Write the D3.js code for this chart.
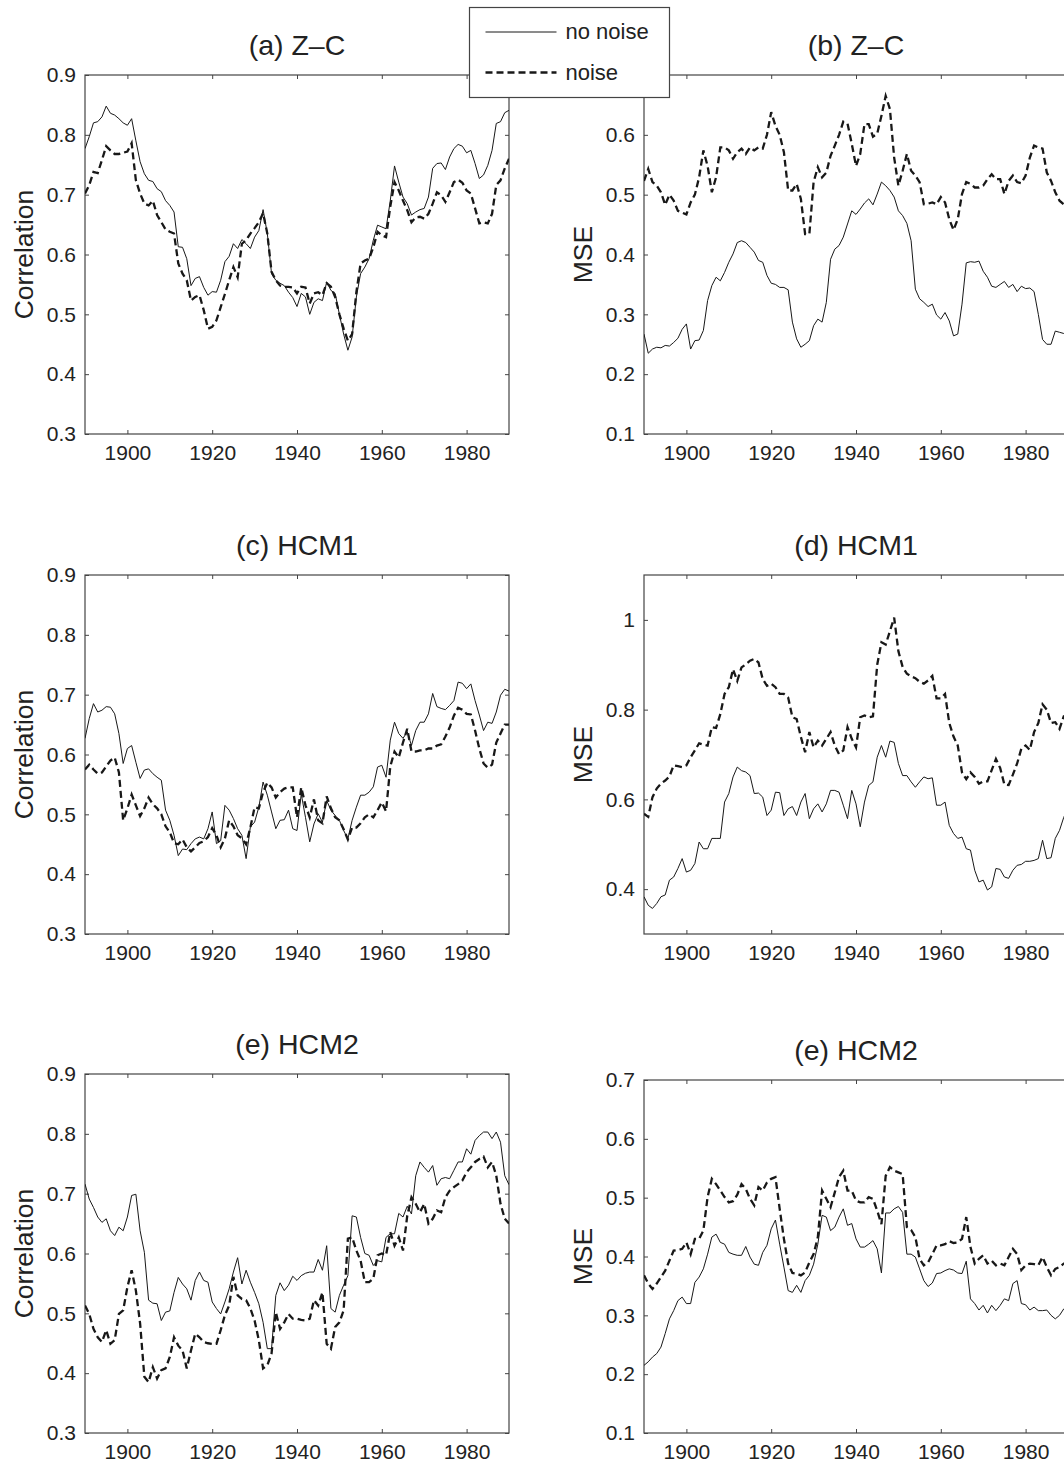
<!DOCTYPE html>
<html>
<head>
<meta charset="utf-8">
<script src="https://cdn.jsdelivr.net/npm/d3@7"></script>
<style>
	body { margin: 0; background: #fff; }
	svg { display: block; font-family: "Liberation Sans", Arial, Helvetica, sans-serif; }
</style>
</head>
<body>
<svg id="chart" width="1064" height="1463"></svg>
<script>
// yearly values, 1890 .. 1990
const years = d3.range(1890, 1991);
const xTicks = [1900, 1920, 1940, 1960, 1980];

// (a) Z-C correlation
const zcCorrClean = [
	0.777, 0.797, 0.82, 0.822, 0.83, 0.848, 0.836, 0.833, 0.827, 0.82,
	0.816, 0.827, 0.79, 0.755, 0.735, 0.724, 0.722, 0.71, 0.705, 0.69,
	0.682, 0.671, 0.613, 0.612, 0.593, 0.548, 0.56, 0.563, 0.545, 0.532,
	0.538, 0.537, 0.557, 0.588, 0.597, 0.618, 0.61, 0.625, 0.618, 0.61,
	0.629, 0.64, 0.675, 0.635, 0.568, 0.557, 0.552, 0.548, 0.537, 0.528,
	0.513, 0.535, 0.529, 0.5, 0.52, 0.526, 0.523, 0.554, 0.54, 0.535,
	0.5, 0.467, 0.44, 0.462, 0.529, 0.568, 0.579, 0.593, 0.624, 0.649,
	0.646, 0.643, 0.69, 0.748, 0.721, 0.696, 0.685, 0.666, 0.671, 0.675,
	0.677, 0.696, 0.744, 0.752, 0.753, 0.742, 0.763, 0.777, 0.784, 0.781,
	0.77, 0.774, 0.752, 0.727, 0.733, 0.749, 0.774, 0.819, 0.822, 0.837,
	0.841
];
const zcCorrNoise = [
	0.702, 0.716, 0.738, 0.736, 0.758, 0.781, 0.774, 0.768, 0.768, 0.77,
	0.772, 0.786, 0.724, 0.702, 0.685, 0.682, 0.69, 0.666, 0.654, 0.642,
	0.638, 0.635, 0.585, 0.568, 0.557, 0.523, 0.529, 0.532, 0.507, 0.476,
	0.479, 0.49, 0.512, 0.534, 0.557, 0.579, 0.562, 0.618, 0.624, 0.635,
	0.644, 0.654, 0.669, 0.635, 0.571, 0.557, 0.548, 0.546, 0.546, 0.545,
	0.535, 0.546, 0.545, 0.518, 0.535, 0.537, 0.532, 0.552, 0.546, 0.529,
	0.5, 0.476, 0.456, 0.467, 0.537, 0.585, 0.59, 0.593, 0.612, 0.638,
	0.632, 0.629, 0.68, 0.721, 0.707, 0.69, 0.674, 0.654, 0.662, 0.663,
	0.66, 0.668, 0.685, 0.704, 0.699, 0.688, 0.704, 0.721, 0.725, 0.72,
	0.707, 0.702, 0.677, 0.652, 0.654, 0.652, 0.668, 0.716, 0.724, 0.744,
	0.76
];

// (b) Z-C MSE
const zcMseClean = [
	0.267, 0.235, 0.242, 0.245, 0.244, 0.248, 0.247, 0.253, 0.26, 0.275,
	0.284, 0.242, 0.256, 0.257, 0.273, 0.323, 0.348, 0.362, 0.356, 0.37,
	0.387, 0.401, 0.42, 0.423, 0.42, 0.412, 0.404, 0.39, 0.387, 0.365,
	0.352, 0.35, 0.345, 0.345, 0.341, 0.287, 0.259, 0.245, 0.25, 0.256,
	0.281, 0.292, 0.287, 0.32, 0.392, 0.409, 0.415, 0.429, 0.451, 0.473,
	0.467, 0.476, 0.486, 0.493, 0.483, 0.501, 0.521, 0.515, 0.507, 0.496,
	0.473, 0.465, 0.452, 0.423, 0.342, 0.326, 0.32, 0.313, 0.317, 0.299,
	0.292, 0.303, 0.289, 0.264, 0.267, 0.317, 0.386, 0.388, 0.387, 0.389,
	0.372, 0.362, 0.347, 0.345, 0.35, 0.355, 0.345, 0.35, 0.338, 0.347,
	0.343, 0.344, 0.338, 0.3, 0.258, 0.25, 0.25, 0.272, 0.27, 0.268,
	0.268
];
const zcMseNoise = [
	0.523, 0.543, 0.521, 0.515, 0.504, 0.483, 0.5, 0.49, 0.473, 0.47,
	0.467, 0.487, 0.5, 0.529, 0.574, 0.548, 0.504, 0.529, 0.579, 0.579,
	0.574, 0.56, 0.571, 0.577, 0.568, 0.579, 0.574, 0.579, 0.577, 0.6,
	0.638, 0.615, 0.6, 0.571, 0.507, 0.507, 0.518, 0.493, 0.434, 0.434,
	0.521, 0.546, 0.529, 0.537, 0.565, 0.582, 0.6, 0.622, 0.619, 0.585,
	0.548, 0.568, 0.618, 0.618, 0.597, 0.602, 0.632, 0.665, 0.643, 0.562,
	0.515, 0.54, 0.568, 0.54, 0.532, 0.521, 0.484, 0.485, 0.487, 0.484,
	0.496, 0.487, 0.459, 0.441, 0.459, 0.501, 0.521, 0.518, 0.512, 0.512,
	0.515, 0.526, 0.534, 0.526, 0.526, 0.501, 0.523, 0.532, 0.521, 0.519,
	0.532, 0.562, 0.582, 0.579, 0.577, 0.537, 0.523, 0.504, 0.49, 0.484,
	0.48
];

// (c) HCM1 correlation
const hcm1CorrClean = [
	0.627, 0.66, 0.685, 0.671, 0.674, 0.68, 0.679, 0.668, 0.635, 0.585,
	0.61, 0.615, 0.587, 0.56, 0.574, 0.576, 0.568, 0.562, 0.557, 0.507,
	0.49, 0.465, 0.431, 0.442, 0.441, 0.451, 0.459, 0.462, 0.459, 0.476,
	0.504, 0.451, 0.456, 0.515, 0.507, 0.493, 0.476, 0.465, 0.426, 0.479,
	0.487, 0.512, 0.554, 0.532, 0.504, 0.476, 0.49, 0.491, 0.507, 0.476,
	0.473, 0.534, 0.495, 0.454, 0.484, 0.501, 0.487, 0.523, 0.507, 0.498,
	0.49, 0.473, 0.459, 0.49, 0.512, 0.532, 0.532, 0.537, 0.546, 0.579,
	0.582, 0.562, 0.624, 0.654, 0.635, 0.627, 0.638, 0.615, 0.64, 0.654,
	0.654, 0.668, 0.702, 0.68, 0.677, 0.675, 0.682, 0.69, 0.721, 0.719,
	0.71, 0.718, 0.69, 0.666, 0.64, 0.654, 0.652, 0.671, 0.699, 0.709,
	0.706
];
const hcm1CorrNoise = [
	0.575, 0.583, 0.575, 0.568, 0.57, 0.58, 0.59, 0.595, 0.57, 0.49,
	0.51, 0.533, 0.515, 0.497, 0.51, 0.528, 0.517, 0.51, 0.5, 0.48,
	0.47, 0.452, 0.45, 0.458, 0.445, 0.438, 0.445, 0.452, 0.455, 0.462,
	0.477, 0.465, 0.445, 0.46, 0.49, 0.48, 0.465, 0.46, 0.45, 0.478,
	0.512, 0.51, 0.537, 0.553, 0.545, 0.528, 0.537, 0.543, 0.545, 0.545,
	0.495, 0.545, 0.515, 0.495, 0.525, 0.49, 0.485, 0.53, 0.51, 0.495,
	0.49, 0.475, 0.458, 0.478, 0.478, 0.485, 0.495, 0.5, 0.495, 0.507,
	0.52, 0.505, 0.58, 0.605, 0.595, 0.62, 0.643, 0.605, 0.605, 0.607,
	0.607, 0.61, 0.61, 0.615, 0.617, 0.63, 0.645, 0.665, 0.678, 0.675,
	0.668, 0.667, 0.64, 0.61, 0.585, 0.578, 0.583, 0.62, 0.635, 0.65,
	0.65
];

// (d) HCM1 MSE
const hcm1MseClean = [
	0.383, 0.364, 0.357, 0.368, 0.383, 0.387, 0.42, 0.427, 0.446, 0.468,
	0.438, 0.442, 0.457, 0.505, 0.49, 0.49, 0.513, 0.513, 0.513, 0.594,
	0.613, 0.65, 0.672, 0.664, 0.661, 0.653, 0.613, 0.614, 0.605, 0.564,
	0.576, 0.616, 0.615, 0.564, 0.579, 0.584, 0.564, 0.594, 0.613, 0.557,
	0.579, 0.59, 0.572, 0.59, 0.62, 0.62, 0.616, 0.587, 0.557, 0.62,
	0.59, 0.539, 0.594, 0.631, 0.639, 0.694, 0.72, 0.694, 0.73, 0.727,
	0.68, 0.653, 0.653, 0.639, 0.627, 0.639, 0.65, 0.646, 0.648, 0.587,
	0.587, 0.594, 0.542, 0.524, 0.513, 0.516, 0.49, 0.487, 0.442, 0.416,
	0.42, 0.398, 0.405, 0.446, 0.444, 0.427, 0.424, 0.442, 0.453, 0.455,
	0.462, 0.462, 0.464, 0.468, 0.509, 0.468, 0.47, 0.513, 0.531, 0.56,
	0.58
];
const hcm1MseNoise = [
	0.568, 0.561, 0.605, 0.624, 0.635, 0.642, 0.651, 0.676, 0.674, 0.672,
	0.676, 0.694, 0.709, 0.725, 0.722, 0.72, 0.761, 0.759, 0.79, 0.835,
	0.85, 0.89, 0.864, 0.894, 0.901, 0.909, 0.913, 0.905, 0.868, 0.853,
	0.858, 0.85, 0.835, 0.835, 0.827, 0.783, 0.779, 0.739, 0.705, 0.75,
	0.716, 0.731, 0.72, 0.735, 0.75, 0.72, 0.701, 0.709, 0.761, 0.735,
	0.716, 0.783, 0.787, 0.783, 0.785, 0.9, 0.95, 0.945, 0.975, 1.005,
	0.93, 0.895, 0.88, 0.874, 0.87, 0.862, 0.858, 0.865, 0.875, 0.825,
	0.825, 0.835, 0.77, 0.74, 0.72, 0.66, 0.645, 0.66, 0.65, 0.635,
	0.64, 0.64, 0.665, 0.69, 0.67, 0.633, 0.632, 0.655, 0.68, 0.713,
	0.72, 0.71, 0.75, 0.77, 0.812, 0.8, 0.77, 0.772, 0.757, 0.785,
	0.79
];

// (e) HCM2 correlation
const hcm2CorrClean = [
	0.716, 0.691, 0.677, 0.661, 0.652, 0.658, 0.638, 0.63, 0.644, 0.638,
	0.661, 0.697, 0.699, 0.638, 0.602, 0.522, 0.517, 0.516, 0.488, 0.502,
	0.504, 0.535, 0.56, 0.549, 0.541, 0.522, 0.555, 0.569, 0.555, 0.552,
	0.519, 0.508, 0.499, 0.519, 0.541, 0.569, 0.593, 0.549, 0.572, 0.552,
	0.535, 0.516, 0.485, 0.441, 0.441, 0.53, 0.551, 0.538, 0.547, 0.562,
	0.555, 0.563, 0.567, 0.569, 0.569, 0.59, 0.572, 0.613, 0.508, 0.502,
	0.53, 0.547, 0.563, 0.663, 0.661, 0.627, 0.6, 0.597, 0.58, 0.588,
	0.586, 0.627, 0.633, 0.633, 0.667, 0.661, 0.679, 0.666, 0.73, 0.753,
	0.744, 0.736, 0.747, 0.714, 0.725, 0.727, 0.725, 0.739, 0.753, 0.753,
	0.775, 0.766, 0.789, 0.797, 0.803, 0.803, 0.792, 0.803, 0.786, 0.73,
	0.715
];
const hcm2CorrNoise = [
	0.513, 0.499, 0.474, 0.46, 0.452, 0.472, 0.449, 0.455, 0.499, 0.505,
	0.544, 0.572, 0.538, 0.483, 0.394, 0.385, 0.41, 0.391, 0.405, 0.408,
	0.427, 0.46, 0.446, 0.438, 0.408, 0.438, 0.466, 0.46, 0.452, 0.45,
	0.449, 0.449, 0.472, 0.497, 0.513, 0.561, 0.53, 0.524, 0.522, 0.508,
	0.488, 0.455, 0.408, 0.413, 0.433, 0.502, 0.474, 0.485, 0.499, 0.491,
	0.491, 0.489, 0.488, 0.491, 0.522, 0.513, 0.535, 0.449, 0.441, 0.477,
	0.485, 0.505, 0.625, 0.627, 0.605, 0.588, 0.552, 0.552, 0.558, 0.597,
	0.6, 0.597, 0.636, 0.613, 0.627, 0.605, 0.663, 0.694, 0.683, 0.669,
	0.683, 0.65, 0.658, 0.672, 0.669, 0.694, 0.705, 0.711, 0.716, 0.722,
	0.736, 0.744, 0.753, 0.758, 0.762, 0.744, 0.753, 0.73, 0.683, 0.658,
	0.65
];

// (e) HCM2 MSE (right column)
const hcm2MseClean = [
	0.215, 0.221, 0.229, 0.235, 0.246, 0.269, 0.294, 0.308, 0.325, 0.331,
	0.32, 0.32, 0.356, 0.365, 0.379, 0.404, 0.433, 0.438, 0.424, 0.421,
	0.407, 0.404, 0.402, 0.402, 0.417, 0.399, 0.387, 0.385, 0.407, 0.419,
	0.447, 0.462, 0.421, 0.382, 0.342, 0.339, 0.351, 0.339, 0.359, 0.368,
	0.387, 0.421, 0.47, 0.467, 0.444, 0.45, 0.467, 0.481, 0.453, 0.456,
	0.43, 0.416, 0.416, 0.421, 0.427, 0.413, 0.372, 0.474, 0.474, 0.481,
	0.485, 0.475, 0.404, 0.404, 0.399, 0.379, 0.359, 0.349, 0.355, 0.371,
	0.372, 0.376, 0.379, 0.377, 0.372, 0.371, 0.392, 0.328, 0.32, 0.309,
	0.317, 0.304, 0.317, 0.308, 0.317, 0.328, 0.325, 0.354, 0.359, 0.32,
	0.318, 0.309, 0.314, 0.308, 0.308, 0.309, 0.3, 0.294, 0.3, 0.311,
	0.315
];
const hcm2MseNoise = [
	0.368, 0.354, 0.345, 0.354, 0.365, 0.376, 0.393, 0.41, 0.411, 0.413,
	0.424, 0.404, 0.43, 0.43, 0.444, 0.501, 0.532, 0.523, 0.512, 0.501,
	0.492, 0.494, 0.505, 0.523, 0.515, 0.498, 0.487, 0.518, 0.512, 0.526,
	0.532, 0.535, 0.481, 0.43, 0.388, 0.372, 0.371, 0.368, 0.373, 0.39,
	0.404, 0.433, 0.512, 0.498, 0.484, 0.509, 0.535, 0.546, 0.512, 0.512,
	0.495, 0.492, 0.492, 0.501, 0.498, 0.478, 0.455, 0.537, 0.552, 0.546,
	0.543, 0.54, 0.45, 0.445, 0.433, 0.396, 0.385, 0.39, 0.404, 0.419,
	0.419, 0.421, 0.426, 0.423, 0.424, 0.43, 0.467, 0.416, 0.388, 0.396,
	0.402, 0.388, 0.393, 0.385, 0.388, 0.385, 0.399, 0.413, 0.404, 0.377,
	0.385, 0.388, 0.387, 0.385, 0.399, 0.382, 0.368, 0.379, 0.382, 0.388,
	0.388
];

const corrTicks = [0.3, 0.4, 0.5, 0.6, 0.7, 0.8, 0.9];
const mseTicks = [0.1, 0.2, 0.3, 0.4, 0.5, 0.6, 0.7];
const zcMseTicks = [0.1, 0.2, 0.3, 0.4, 0.5, 0.6]; // 0.7 sits under the legend
const hcm1MseTicks = [0.4, 0.6, 0.8, 1];

const svg = d3.select("#chart");
const plotWidth = 424;
const xDomain = [1890, 1990];
const inkColor = "#181818";
const frameColor = "#444";

const panels = [
	{ title: "(a) Z\u2013C", label: "Correlation", left: 85, top: 75, bottom: 434, domain: [0.3, 0.9], ticks: corrTicks, clean: zcCorrClean, noise: zcCorrNoise },
	{ title: "(b) Z\u2013C", label: "MSE", left: 644, top: 75, bottom: 434, domain: [0.1, 0.7], ticks: zcMseTicks, clean: zcMseClean, noise: zcMseNoise },
	{ title: "(c) HCM1", label: "Correlation", left: 85, top: 575, bottom: 934, domain: [0.3, 0.9], ticks: corrTicks, clean: hcm1CorrClean, noise: hcm1CorrNoise },
	{ title: "(d) HCM1", label: "MSE", left: 644, top: 575, bottom: 934, domain: [0.3, 1.1], ticks: hcm1MseTicks, clean: hcm1MseClean, noise: hcm1MseNoise },
	{ title: "(e) HCM2", label: "Correlation", left: 85, top: 1074, bottom: 1433, domain: [0.3, 0.9], ticks: corrTicks, clean: hcm2CorrClean, noise: hcm2CorrNoise },
	{ title: "(e) HCM2", label: "MSE", left: 644, top: 1080, bottom: 1433, domain: [0.1, 0.7], ticks: mseTicks, clean: hcm2MseClean, noise: hcm2MseNoise },
];

const tickFormat = d3.format(".1~f");

function drawPanel(p, idx) {
	const xScale = d3.scaleLinear().domain(xDomain).range([p.left, p.left + plotWidth]);
	const yScale = d3.scaleLinear().domain(p.domain).range([p.bottom, p.top]);
	const g = svg.append("g").attr("class", "panel");

	g.append("clipPath")
		.attr("id", "clip" + idx)
		.append("rect")
		.attr("x", p.left)
		.attr("y", p.top)
		.attr("width", plotWidth)
		.attr("height", p.bottom - p.top);

	// axes, ticks pointing inward on all four sides
	const styleAxis = (sel) => {
		sel.select(".domain").remove();
		sel.selectAll(".tick line").attr("stroke", frameColor);
		sel.selectAll(".tick text").attr("fill", "#222").style("font-size", "21px");
	};
	g.append("g")
		.attr("transform", `translate(0, ${p.bottom})`)
		.call(d3.axisBottom(xScale).tickValues(xTicks).tickFormat(d3.format("d")).tickSizeInner(-4).tickSizeOuter(0).tickPadding(11))
		.call(styleAxis);
	g.append("g")
		.attr("transform", `translate(0, ${p.top})`)
		.call(d3.axisTop(xScale).tickValues(xTicks).tickFormat("").tickSizeInner(-4).tickSizeOuter(0))
		.call(styleAxis);
	g.append("g")
		.attr("transform", `translate(${p.left}, 0)`)
		.call(d3.axisLeft(yScale).tickValues(p.ticks).tickFormat(tickFormat).tickSizeInner(-4).tickSizeOuter(0).tickPadding(9))
		.call(styleAxis);
	g.append("g")
		.attr("transform", `translate(${p.left + plotWidth}, 0)`)
		.call(d3.axisRight(yScale).tickValues(p.ticks).tickFormat("").tickSizeInner(-4).tickSizeOuter(0))
		.call(styleAxis);
	g.selectAll("text").attr("font-family", null);

	g.append("rect")
		.attr("x", p.left)
		.attr("y", p.top)
		.attr("width", plotWidth)
		.attr("height", p.bottom - p.top)
		.attr("fill", "none")
		.attr("stroke", frameColor)
		.attr("stroke-width", 1.2);

	const line = d3
		.line()
		.x((d, i) => xScale(years[i]))
		.y((d) => yScale(d));

	const lines = g.append("g").attr("clip-path", `url(#clip${idx})`);
	lines.append("path")
		.attr("d", line(p.clean))
		.attr("fill", "none")
		.attr("stroke", inkColor)
		.attr("stroke-width", 1)
		.attr("stroke-linejoin", "round");
	lines.append("path")
		.attr("d", line(p.noise))
		.attr("fill", "none")
		.attr("stroke", inkColor)
		.attr("stroke-width", 2.3)
		.attr("stroke-dasharray", "7,4");

	g.append("text")
		.attr("x", p.left + plotWidth / 2)
		.attr("y", p.top - 20)
		.attr("text-anchor", "middle")
		.attr("fill", "#222")
		.style("font-size", "28.5px")
		.text(p.title);

	g.append("text")
		.attr("transform", `translate(${p.left - 52}, ${(p.top + p.bottom) / 2}) rotate(-90)`)
		.attr("text-anchor", "middle")
		.attr("fill", "#222")
		.style("font-size", "26.5px")
		.text(p.label);
}

panels.forEach(drawPanel);

// legend sits over the gap between (a) and (b)
const legendItems = [
	{ name: "no noise", dash: null, width: 1 },
	{ name: "noise", dash: "7,4", width: 2.3 },
];
const legend = svg.append("g").attr("transform", "translate(469.5, 7.5)");
legend.append("rect")
	.attr("width", 200)
	.attr("height", 90)
	.attr("fill", "#fff")
	.attr("stroke", frameColor)
	.attr("stroke-width", 1.2);
const items = legend
	.selectAll(".item")
	.data(legendItems)
	.enter()
	.append("g")
	.attr("class", "item")
	.attr("transform", (d, i) => `translate(0, ${24.5 + i * 40.5})`);
items.append("line")
	.attr("x1", 16)
	.attr("x2", 87)
	.attr("stroke", inkColor)
	.attr("stroke-width", (d) => d.width)
	.attr("stroke-dasharray", (d) => d.dash);
items.append("text")
	.attr("x", 96)
	.attr("dy", "0.33em")
	.attr("fill", "#222")
	.style("font-size", "22px")
	.text((d) => d.name);
</script>
</body>
</html>
